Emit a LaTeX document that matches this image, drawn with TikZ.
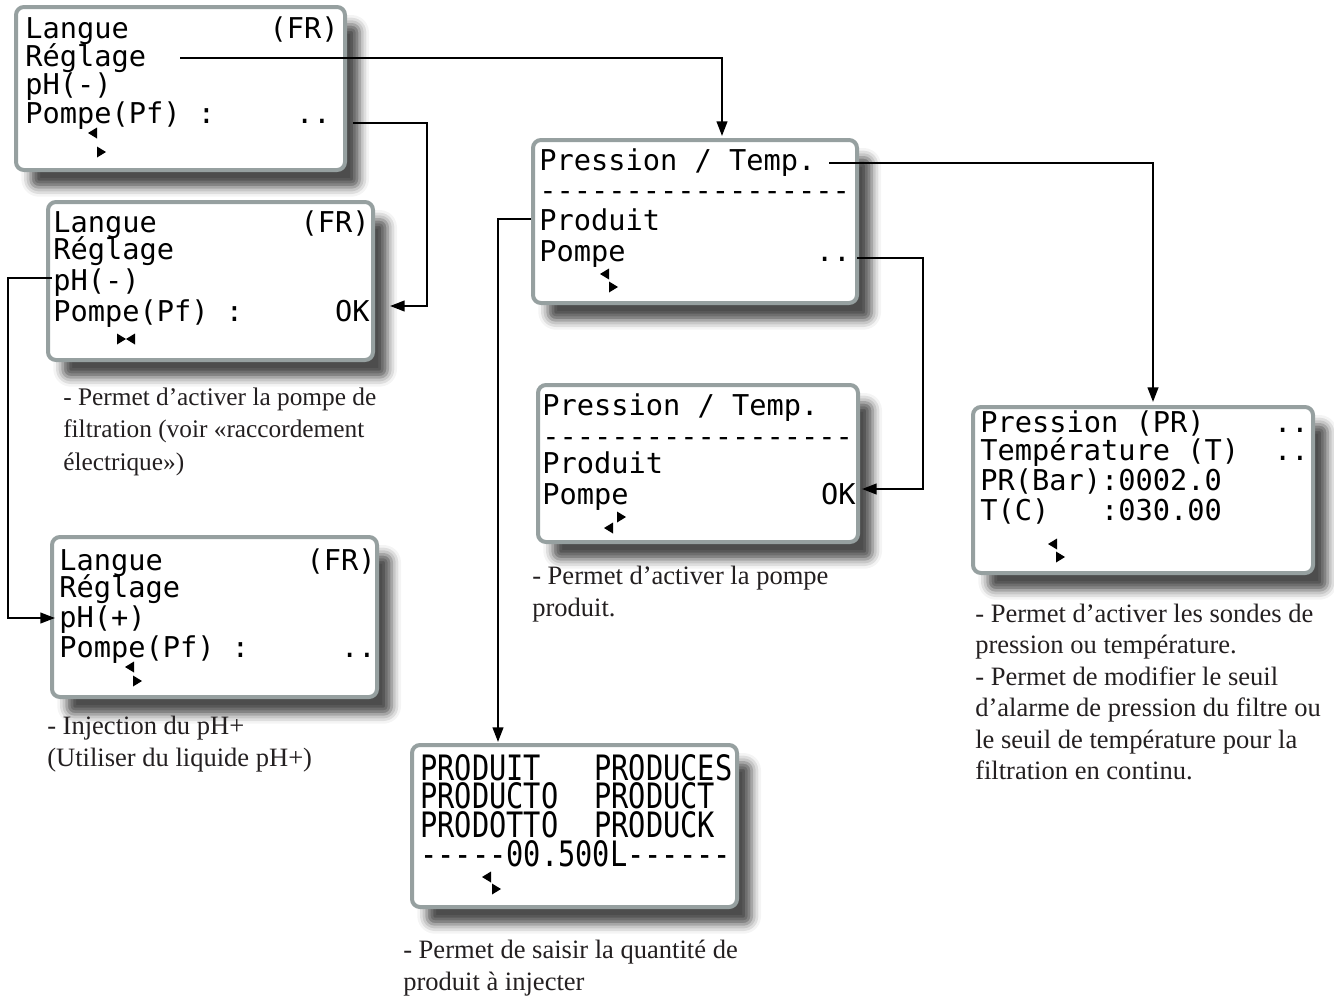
\documentclass[tikz,border=0pt]{standalone}
\usepackage{fontspec}
\usepackage{graphicx}
\setmainfont{Liberation Serif}
\newfontfamily\lcdfont{DejaVu Sans Mono}
\usetikzlibrary{arrows.meta,fit,calc,shadows.blur}
\definecolor{lcdborder}{RGB}{150,160,160}
\definecolor{captext}{RGB}{35,31,32}
\tikzset{
 screen/.style={draw=lcdborder, line width=3pt, fill=white, rounded corners=6pt,
   inner sep=0pt, outer sep=0pt,
   blur shadow={shadow xshift=11pt, shadow yshift=-13pt, shadow blur radius=7pt, shadow opacity=70}},
 lcd/.style={font=\lcdfont\fontsize{21.5}{21.5}\selectfont, inner sep=0pt, anchor=base west},
 lcdr/.style={lcd, anchor=base east},
 captxt/.style={font=\fontsize{19.9}{24}\selectfont, text=captext, inner sep=0pt, anchor=base west},
 captxtsmall/.style={captxt, font=\fontsize{19}{24}\selectfont},
 conn/.style={line width=1.6pt, -{Triangle[length=11pt,width=8pt]}},
 curleft/.pic={\fill (-5,0) -- (4,-5.5) -- (4,5.5) -- cycle;},
 curright/.pic={\fill (5,0) -- (-4,-5.5) -- (-4,5.5) -- cycle;},
}
\newcommand{\tall}[1]{\scalebox{1}[1.22]{#1}}
\begin{document}
\begin{tikzpicture}[x=0.75pt,y=-0.75pt]
\useasboundingbox (0,0) rectangle (1334,996);

% screens
\node[screen, fit={(16,7) (345,170)}] (A) {};
\node[screen, fit={(48,202) (373,360)}] (B) {};
\node[screen, fit={(52,537) (377,697)}] (C) {};
\node[screen, fit={(533,140) (857,303)}] (D) {};
\node[screen, fit={(538,385) (858,542)}] (E) {};
\node[screen, fit={(973,407) (1313,573)}] (F) {};
\node[screen, fit={(412,745) (737,907)}] (G) {};

% screen A
\node[lcd] (a1) at (25,38) {Langue};
\node[lcdr] (a1r) at (339,38) {(FR)};
\node[lcd] (a2) at (25,66) {Réglage};
\node[lcd] (a3) at (25,94) {pH(-)};
\node[lcd] (a4) at (25,123) {Pompe(Pf) :};
\node[lcdr] (a4r) at (331,123) {..};
\pic at (93,133) {curleft};
\pic at (101,152) {curright};

% screen B
\node[lcd] (b1) at (53,232) {Langue};
\node[lcdr] (b1r) at (370,232) {(FR)};
\node[lcd] (b2) at (53,259) {Réglage};
\node[lcd] (b3) at (53,290) {pH(-)};
\node[lcd] (b4) at (53,321) {Pompe(Pf) :};
\node[lcdr] (b4r) at (370,321) {OK};
\pic at (121,339) {curright};
\pic at (131,339) {curleft};

% screen C
\node[lcd] (c1) at (59,570) {Langue};
\node[lcdr] (c1r) at (376,570) {(FR)};
\node[lcd] (c2) at (59,597) {Réglage};
\node[lcd] (c3) at (59,627) {pH(+)};
\node[lcd] (c4) at (59,657) {Pompe(Pf) :};
\node[lcdr] (c4r) at (376,657) {..};
\pic at (130,667) {curleft};
\pic at (137,681) {curright};

% screen D
\node[lcd] (d1) at (539,170) {Pression / Temp.};
\node[lcd] (d2) at (539,200) {------------------};
\node[lcd] (d3) at (539,230) {Produit};
\node[lcd] (d4) at (539,261) {Pompe};
\node[lcdr] (d4r) at (851,261) {..};
\pic at (605,274) {curleft};
\pic at (613,287) {curright};

% screen E
\node[lcd] (e1) at (542,415) {Pression / Temp.};
\node[lcd] (e2) at (542,446) {------------------};
\node[lcd] (e3) at (542,473) {Produit};
\node[lcd] (e4) at (542,504) {Pompe};
\node[lcdr] (e4r) at (856,504) {OK};
\pic at (621,517) {curright};
\pic at (609,528) {curleft};

% screen F
\node[lcd] (f1) at (980,432) {Pression (PR)};
\node[lcdr] (f1r) at (1309,432) {..};
\node[lcd] (f2) at (980,460) {Température (T)};
\node[lcdr] (f2r) at (1309,460) {..};
\node[lcd] (f3) at (980,490) {PR(Bar):0002.0};
\node[lcd] (f4) at (980,520) {T(C)\hphantom{xxx}:030.00};
\pic at (1053,544) {curleft};
\pic at (1060,557) {curright};

% screen G
\node[lcd] (g1) at (420,780) {\tall{PRODUIT}};
\node[lcd] (g1r) at (594,780) {\tall{PRODUCES}};
\node[lcd] (g2) at (420,808) {\tall{PRODUCTO}};
\node[lcd] (g2r) at (594,808) {\tall{PRODUCT}};
\node[lcd] (g3) at (420,837) {\tall{PRODOTTO}};
\node[lcd] (g3r) at (594,837) {\tall{PRODUCK}};
\node[lcd] (g4) at (420,866) {\tall{-----00.500L------}};
\pic at (487,877) {curleft};
\pic at (496,889) {curright};

% captions
\node[captxtsmall] (cb1) at (63,405) {- Permet d’activer la pompe de};
\node[captxtsmall] (cb2) at (63,437.5) {filtration (voir «raccordement};
\node[captxtsmall] (cb3) at (63,470) {électrique»)};
\node[captxt] (cc1) at (47,734) {- Injection du pH+};
\node[captxt] (cc2) at (47,766) {(Utiliser du liquide pH+)};
\node[captxt] (ce1) at (532,584) {- Permet d’activer la pompe};
\node[captxt] (ce2) at (532,616) {produit.};
\node[captxt] (cf1) at (975,622) {- Permet d’activer les sondes de};
\node[captxt] (cf2) at (975,653.5) {pression ou température.};
\node[captxt] (cf3) at (975,685) {- Permet de modifier le seuil};
\node[captxt] (cf4) at (975,716.5) {d’alarme de pression du filtre ou};
\node[captxt] (cf5) at (975,748) {le seuil de température pour la};
\node[captxt] (cf6) at (975,779.5) {filtration en continu.};
\node[captxt] (cg1) at (403,958) {- Permet de saisir la quantité de};
\node[captxt] (cg2) at (403,990) {produit à injecter};

% connectors
\coordinate (s1) at (180,58);
\coordinate (s2) at (353,123);
\coordinate (s3) at (52,278);
\coordinate (s4) at (531,219);
\coordinate (s5) at (857,258);
\coordinate (s6) at (829,163);
\draw[conn] (s1) -| ($(D.north -| 722,0)+(0,-4)$);
\draw[conn] (s2) -- (427,123) |- ($(B.east)+(17,25)$);
\draw[conn] (s3) -- (8,278) |- ($(C.west)+(3,1)$);
\draw[conn] (s4) -| ($(G.north -| 498,0)+(0,-3)$);
\draw[conn] (s5) -- (923,258) |- ($(E.east)+(4,25.5)$);
\draw[conn] (s6) -| ($(F.north -| 1153,0)+(0,-5)$);
\end{tikzpicture}
\end{document}
